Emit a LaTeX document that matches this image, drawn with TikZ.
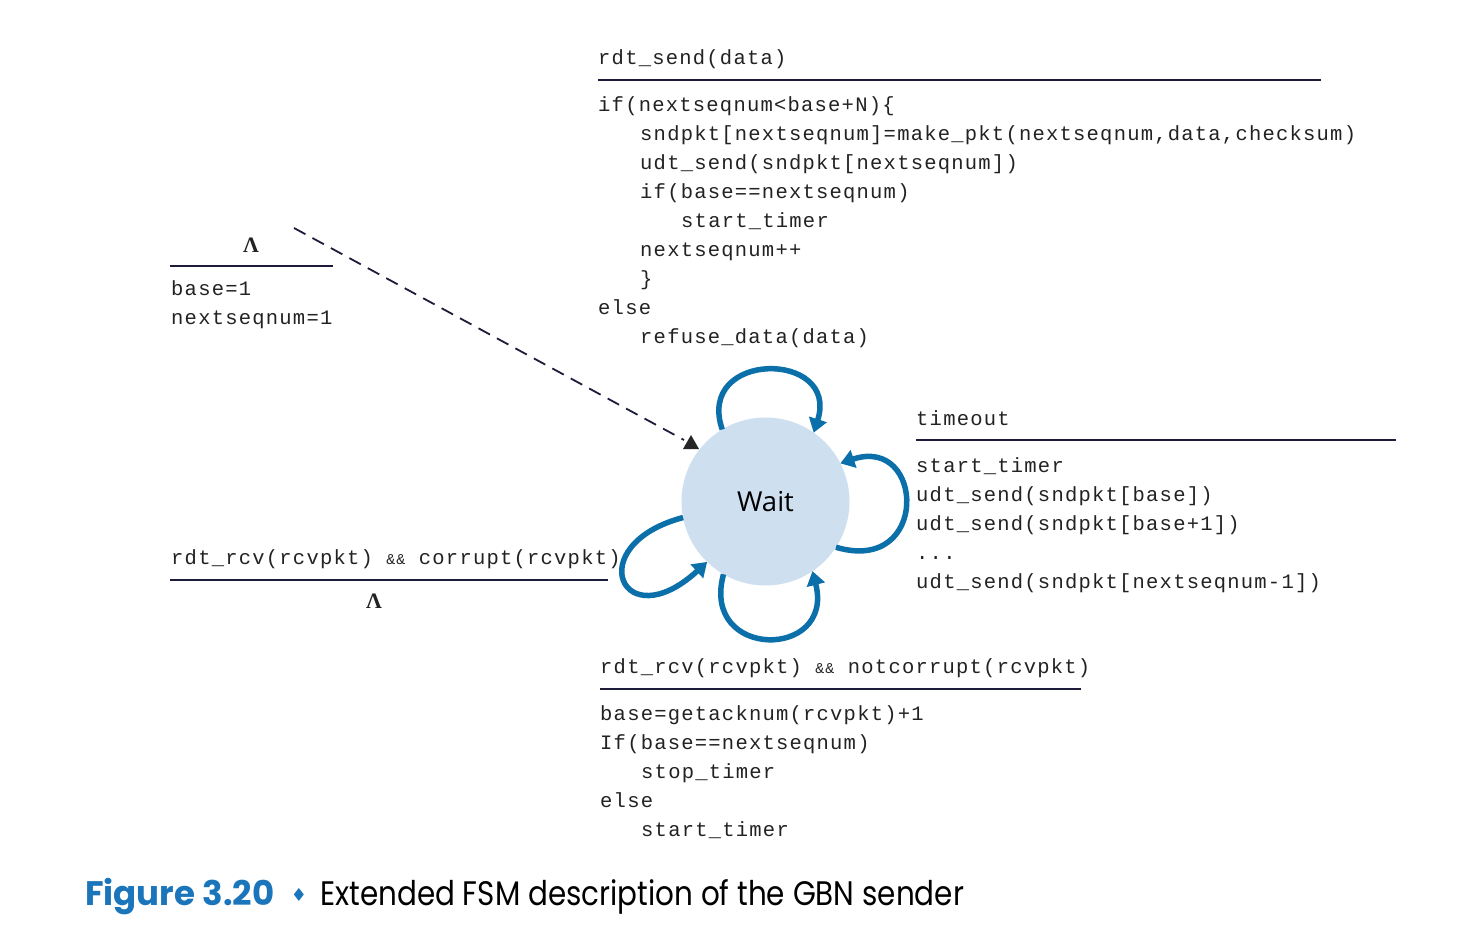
\documentclass[tikz,border=0pt]{standalone}
\usepackage{fontspec}
\usepackage{graphicx}
\usetikzlibrary{arrows.meta}
\newfontfamily\codefont[LetterSpace=6]{Liberation Mono}
\newfontfamily\waitfont{Open Sans}
\newfontfamily\capfont{Poppins}
\newfontfamily\symfont{DejaVu Sans}
\newfontfamily\lamfont{Liberation Serif}
\newcommand{\ampamp}{{\fontsize{15}{20}\selectfont\&\&}}
\definecolor{loopblue}{HTML}{0B6FAA}
\definecolor{capblue}{HTML}{1B75BB}
\definecolor{waitfill}{HTML}{CEE0EF}
\definecolor{txt}{HTML}{222222}
\definecolor{rulec}{HTML}{1D1D3B}
\begin{document}
\begin{tikzpicture}[x=1pt,y=-1pt,
  code/.style={font=\codefont\fontsize{20.5}{24}\selectfont, anchor=base west, inner sep=0pt, text=txt},
  lam/.style={font=\lamfont\bfseries\fontsize{22}{26}\selectfont, inner sep=0pt, text=txt},
  rulel/.style={line width=2pt, draw=rulec},
  selfloop/.style={line width=5.5pt, draw=loopblue, -{Triangle[length=14pt,width=18pt]}}]
\useasboundingbox[fill=white] (0,0) rectangle (1476,945);

% top block
\node[code] (a0) at (598,64) {rdt\_send(data)};
\coordinate (ra1) at (598,80); \coordinate (ra2) at (1321,80);
\draw[rulel] (ra1) -- (ra2);
\node[code] (a1) at (598,111) {if(nextseqnum<base+N)\{};
\node[code] (a2) at (640,140) {sndpkt[nextseqnum]=make\_pkt(nextseqnum,data,checksum)};
\node[code] (a3) at (640,169) {udt\_send(sndpkt[nextseqnum])};
\node[code] (a4) at (640,198) {if(base==nextseqnum)};
\node[code] (a5) at (681,227) {start\_timer};
\node[code] (a6) at (640,256) {nextseqnum++};
\node[code] (a7) at (640,285) {\}};
\node[code] (a8) at (598,314) {else};
\node[code] (a9) at (640,343) {refuse\_data(data)};

% init
\node[lam] (l1) at (251,245) {Λ};
\coordinate (rb1) at (170,266); \coordinate (rb2) at (333,266);
\draw[rulel] (rb1) -- (rb2);
\node[code] (b1) at (171,295) {base=1};
\node[code] (b2) at (171,324) {nextseqnum=1};

% timeout
\node[code] (c0) at (916,425) {timeout};
\coordinate (rc1) at (916,440); \coordinate (rc2) at (1396,440);
\draw[rulel] (rc1) -- (rc2);
\node[code] (c1) at (916,472) {start\_timer};
\node[code] (c2) at (916,501) {udt\_send(sndpkt[base])};
\node[code] (c3) at (916,530) {udt\_send(sndpkt[base+1])};
\node[code] (c4) at (916,559) {...};
\node[code] (c5) at (916,588) {udt\_send(sndpkt[nextseqnum-1])};

% corrupt
\node[code] (d0) at (171,564) {rdt\_rcv(rcvpkt) \ampamp{} corrupt(rcvpkt)};
\coordinate (rd1) at (170,580); \coordinate (rd2) at (608,580);
\draw[rulel] (rd1) -- (rd2);
\node[lam] (l2) at (374,601) {Λ};

% notcorrupt
\node[code] (e0) at (600,673) {rdt\_rcv(rcvpkt) \ampamp{} notcorrupt(rcvpkt)};
\coordinate (re1) at (600,689); \coordinate (re2) at (1081,689);
\draw[rulel] (re1) -- (re2);
\node[code] (e1) at (600,720) {base=getacknum(rcvpkt)+1};
\node[code] (e2) at (600,749) {If(base==nextseqnum)};
\node[code] (e3) at (641,778) {stop\_timer};
\node[code] (e4) at (600,807) {else};
\node[code] (e5) at (641,836) {start\_timer};

% state
\node[circle, fill=waitfill, minimum size=168pt, inner sep=0pt, outer sep=0pt,
      font=\waitfont\fontsize{27.5}{32}\selectfont, text=black] (w) at (765.5,501.5) {Wait};

% initial dashed arrow
\coordinate (ds) at (294,228);
\coordinate (de) at (684,440);
\draw[rulec, line width=1.8pt, dash pattern=on 13pt off 8pt] (ds) -- (de);
\fill[black!85] (683,449) -- (699,449) -- (691,435) -- cycle;

% self loops
\draw[selfloop] (w.121) .. controls (695,350) and (840,350) .. (w.55);
\draw[selfloop] (w.-33) .. controls (930,575) and (925,435) .. (w.27);
\draw[selfloop] (w.-120) .. controls (700,660) and (835,660) .. (w.-56);
\draw[selfloop] (w.191) .. controls (580,545) and (622,640) .. (w.226);

% caption
\node[anchor=base west, inner sep=0pt, font=\capfont\bfseries\fontsize{34}{38}\selectfont, text=capblue] (f1) at (85,905) {Figure 3.20};
\node[inner sep=0pt, font=\symfont\fontsize{18}{20}\selectfont, text=capblue] (f2) at (299,895) {♦};
\node[anchor=base west, inner sep=0pt, font=\capfont\fontsize{34}{38}\selectfont, text=black] (f3) at (320,905) {\scalebox{0.865}[1]{Extended FSM description of the GBN sender}};
\end{tikzpicture}
\end{document}
